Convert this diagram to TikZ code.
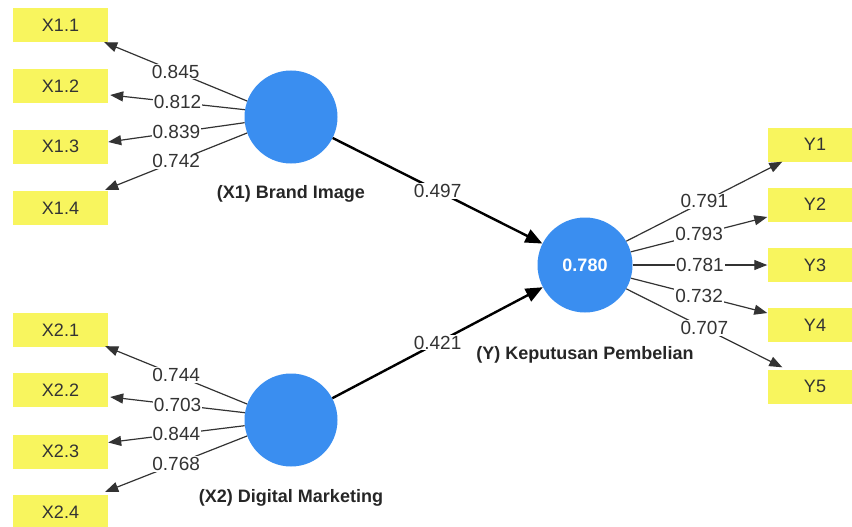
\documentclass[tikz,border=0pt]{standalone}
\usepackage{fontspec}
\setmainfont{Liberation Sans}
\usetikzlibrary{arrows.meta,calc}
\definecolor{lvblue}{HTML}{3A8EF0}
\definecolor{boxyellow}{HTML}{F8F55E}
\definecolor{txt}{HTML}{333333}
\begin{document}
\begin{tikzpicture}[x=1pt,y=-1pt,
  ind/.style={fill=boxyellow,minimum width=95pt,minimum height=34pt,inner sep=0pt,font=\fontsize{18}{20}\selectfont,text=txt},
  lv/.style={circle,fill=lvblue,minimum size=93pt,inner sep=0pt},
  load/.style={draw=txt,line width=1.2pt,-{Triangle[length=13pt,width=10pt]}},
  struct/.style={draw=black,line width=2.4pt,-{Triangle[length=17pt,width=14pt]}},
  val/.style={fill=white,inner sep=1pt,font=\fontsize{19}{21}\selectfont,text=txt},
  lvname/.style={font=\bfseries\fontsize{18}{20}\selectfont,text=black!85}]
\clip (0,0) rectangle (852,527);
% indicators
\node[ind] (x11) at (60.5,25) {X1.1};
\node[ind] (x12) at (60.5,86.5) {X1.2};
\node[ind] (x13) at (60.5,146.5) {X1.3};
\node[ind] (x14) at (60.5,208) {X1.4};
\node[ind] (x21) at (60.5,330) {X2.1};
\node[ind] (x22) at (60.5,390) {X2.2};
\node[ind] (x23) at (60.5,451.5) {X2.3};
\node[ind] (x24) at (60.5,512) {X2.4};
\node[ind] (y1) at (815,144.5) {Y1};
\node[ind] (y2) at (815,204.5) {Y2};
\node[ind] (y3) at (815,265) {Y3};
\node[ind] (y4) at (815,325) {Y4};
\node[ind] (y5) at (815,386.5) {Y5};
% latent variables
\node[lv] (x1) at (291,117) {};
\node[lv] (x2) at (291,420) {};
\node[lv,text=white,font=\bfseries\fontsize{18}{21}\selectfont,minimum size=95pt] (y) at (585,265) {0.780};
\node[lvname] (x1n) at (291,194) {(X1) Brand Image};
\node[lvname] (x2n) at (291,498) {(X2) Digital Marketing};
\node[lvname] (yn) at (585,355) {(Y) Keputusan Pembelian};
% outer loadings X1
\draw[load] (x1.160) -- node[val]{0.845} ($(x11.south east)+(-4,0)$);
\draw[load] (x1.171) -- node[val]{0.812} ($(x12.east)+(2,8.5)$);
\draw[load] (x1.187) -- node[val]{0.839} ($(x13.east)+(0,-4.5)$);
\draw[load] (x1.200) -- node[val]{0.742} ($(x14.north east)+(-3,-1)$);
% outer loadings X2
\draw[load] (x2.160) -- node[val]{0.744} ($(x21.south east)+(-3,-1)$);
\draw[load] (x2.171) -- node[val]{0.703} ($(x22.east)+(2,7)$);
\draw[load] (x2.187) -- node[val]{0.844} ($(x23.east)+(0,-9)$);
\draw[load] (x2.200) -- node[val]{0.768} ($(x24.north east)+(-3,-3)$);
% outer loadings Y
\draw[load] (y.30) -- node[val]{0.791} ($(y1.south west)+(15,0)$);
\draw[load] (y.16) -- node[val]{0.793} ($(y2.west)+(0,12.5)$);
\draw[load] (y.0) -- node[val]{0.781} (y3.west);
\draw[load] (y.-16) -- node[val]{0.732} ($(y4.west)+(0,-12)$);
\draw[load] (y.-30) -- node[val]{0.707} ($(y5.north west)+(15,-2)$);
% structural paths
\draw[struct] (x1) -- node[val]{0.497} (y);
\draw[struct] (x2) -- node[val]{0.421} (y);
\end{tikzpicture}
\end{document}
